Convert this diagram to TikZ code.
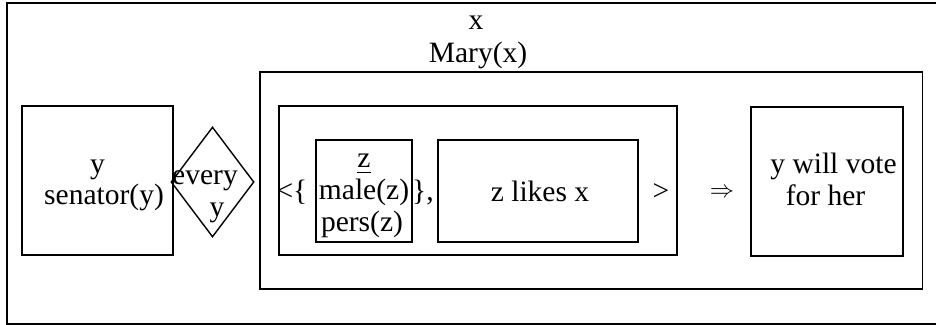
\documentclass[tikz,border=0pt]{standalone}
\usepackage{amsmath}
\usepackage{amssymb}
\usepackage{fontspec}
\setmainfont{Liberation Serif}
\usepackage{tikz}
\usetikzlibrary{arrows,shapes}

\begin{document}
\begin{tikzpicture}[
  drsbox/.style={draw=cbox,line width=1pt,shape=rectangle,inner sep=0pt},
  cond/.style={draw=cbox,line width=1pt,shape=diamond,inner sep=0pt},
  lbl/.style={anchor=base,inner sep=0pt,text=clbl,font=\fontsize{21}{23.5}\selectfont}]
%
\useasboundingbox (0,0) rectangle (23.4cm,-8.125cm);
%
\definecolor{cbox}{rgb}{0.0,0.0,0.0}
\definecolor{clbl}{rgb}{0.0,0.0,0.0}
%
\node[drsbox,minimum width=23.325cm,minimum height=8.025cm] (outer) at (11.8375cm,-4.0875cm) {};
\node[drsbox,minimum width=16.5675cm,minimum height=5.425cm] (mary) at (14.784cm,-4.5125cm) {};
\node[drsbox,minimum width=3.775cm,minimum height=3.725cm] (senator) at (2.4375cm,-4.5125cm) {};
\node[cond,minimum width=2.075cm,minimum height=2.75cm] (every) at (5.3125cm,-4.55cm) {};
\node[drsbox,minimum width=9.95cm,minimum height=3.725cm] (pair) at (11.95cm,-4.5125cm) {};
\node[drsbox,minimum width=2.4cm,minimum height=2.55cm] (zbox) at (9.1cm,-4.775cm) {};
\node[drsbox,minimum width=5.0cm,minimum height=2.55cm] (likes) at (13.45cm,-4.775cm) {};
\node[drsbox,minimum width=3.8cm,minimum height=3.725cm] (vote) at (20.675cm,-4.5375cm) {};
%
\node[lbl] (ycut) at (1.625cm,0.17cm) {y};
\node[lbl] (xref) at (11.9cm,-0.75cm) {x};
\node[lbl] (maryx) at (11.95cm,-1.575cm) {Mary(x)};
\node[lbl] (yref) at (2.4375cm,-4.35cm) {y};
\node[lbl] (senatory) at (2.6cm,-5.125cm) {senator(y)};
\node[lbl] (everyw) at (5.125cm,-4.625cm) {every};
\node[lbl] (everyy) at (5.425cm,-5.425cm) {y};
\node[lbl] (lopen) at (7.3cm,-5.025cm) {<\{};
\node[lbl] (zref) at (9.1cm,-4.2cm) {\underline{z}};
\node[lbl] (malez) at (9.1cm,-5.0cm) {male(z)};
\node[lbl] (persz) at (9.05cm,-5.8cm) {pers(z)};
\node[lbl] (rclose) at (10.575cm,-5.025cm) {\},};
\node[lbl] (zlikes) at (13.5cm,-5.05cm) {z likes x};
\node[lbl] (rangle) at (16.525cm,-5.025cm) {>};
\node[inner sep=0pt,font=\fontsize{16}{16}\selectfont] (impl) at (18.05cm,-4.825cm) {$\Rightarrow$};
\node[lbl] (willvote) at (20.8375cm,-4.35cm) {y will vote};
\node[lbl] (forher) at (20.6375cm,-5.15cm) {for her};
%
\end{tikzpicture}
\end{document}
